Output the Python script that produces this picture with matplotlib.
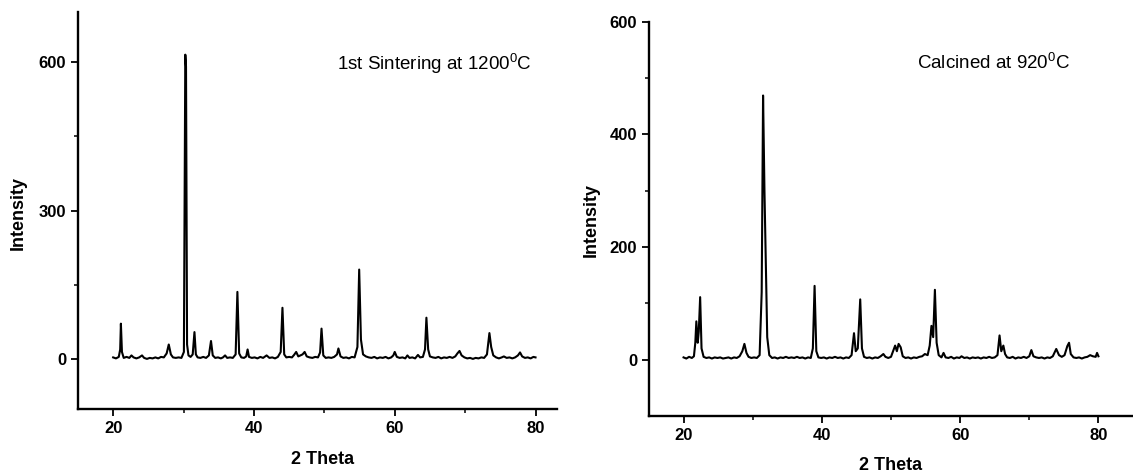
import numpy as np
import matplotlib
matplotlib.use("Agg")
import matplotlib.pyplot as plt

plt.rcParams['font.family'] = ['Liberation Sans', 'DejaVu Sans']
plt.rcParams['mathtext.default'] = 'regular'

# XRD pattern after 1st sintering at 1200 C  (2theta, intensity)
sinter_pts = [
    (20.0, 4), (20.4, 2), (20.8, 5), (21.0, 20), (21.1, 72), (21.25, 15), (21.5, 3), (21.9, 5),
    (22.3, 3), (22.6, 8), (22.9, 4), (23.3, 2), (23.7, 4), (24.1, 8), (24.4, 3), (24.8, 1),
    (25.2, 3), (25.6, 2), (26.0, 4), (26.4, 2), (26.8, 5), (27.2, 4), (27.6, 12), (27.9, 30),
    (28.2, 10), (28.5, 4), (28.9, 3), (29.3, 4), (29.7, 3), (30.05, 15), (30.25, 614), (30.35, 590),
    (30.5, 30), (30.7, 8), (31.0, 5), (31.3, 10), (31.55, 55), (31.75, 10), (32.0, 4), (32.4, 3),
    (32.8, 5), (33.2, 3), (33.6, 8), (33.9, 37), (34.15, 8), (34.5, 3), (34.9, 4), (35.3, 2),
    (35.6, 4), (35.9, 8), (36.2, 3), (36.6, 4), (37.0, 3), (37.4, 10), (37.65, 136), (37.9, 12),
    (38.2, 4), (38.6, 3), (38.9, 6), (39.1, 20), (39.3, 5), (39.7, 3), (40.1, 4), (40.5, 2),
    (40.9, 5), (41.3, 3), (41.8, 8), (42.2, 3), (42.6, 4), (43.0, 2), (43.4, 5), (43.8, 15),
    (44.05, 104), (44.3, 10), (44.6, 4), (45.0, 5), (45.4, 4), (45.7, 9), (46.0, 15), (46.3, 6),
    (46.6, 8), (46.9, 10), (47.2, 15), (47.5, 6), (47.9, 4), (48.3, 3), (48.7, 5), (49.1, 4),
    (49.4, 14), (49.6, 62), (49.85, 8), (50.2, 3), (50.6, 4), (51.0, 3), (51.4, 5), (51.8, 10),
    (52.0, 22), (52.3, 6), (52.7, 3), (53.1, 4), (53.5, 2), (53.9, 5), (54.3, 4), (54.7, 25),
    (54.95, 181), (55.2, 40), (55.5, 10), (55.9, 6), (56.3, 4), (56.7, 3), (57.1, 5), (57.5, 2),
    (57.9, 4), (58.3, 3), (58.7, 5), (59.1, 2), (59.5, 4), (59.8, 8), (60.0, 15), (60.3, 5),
    (60.7, 3), (61.1, 4), (61.5, 2), (61.8, 8), (62.1, 3), (62.5, 4), (62.9, 2), (63.3, 9),
    (63.6, 4), (64.0, 5), (64.3, 20), (64.5, 84), (64.75, 20), (65.0, 6), (65.4, 4), (65.8, 3),
    (66.2, 5), (66.6, 2), (67.0, 4), (67.4, 3), (67.8, 5), (68.2, 3), (68.6, 6), (68.9, 12),
    (69.2, 17), (69.5, 8), (69.9, 4), (70.3, 2), (70.7, 3), (71.1, 1), (71.5, 3), (71.9, 2),
    (72.3, 4), (72.7, 3), (73.1, 10), (73.45, 53), (73.7, 25), (74.0, 8), (74.4, 4), (74.8, 2),
    (75.2, 4), (75.5, 6), (75.9, 3), (76.3, 4), (76.7, 2), (77.1, 4), (77.5, 8), (77.8, 14),
    (78.1, 6), (78.5, 3), (78.9, 4), (79.3, 2), (79.7, 5), (80.0, 4),
]

# XRD pattern after calcination at 920 C  (2theta, intensity)
calcine_pts = [
    (20.0, 4), (20.4, 2), (20.8, 5), (21.2, 3), (21.5, 6), (21.7, 30), (21.85, 68), (22.05, 30),
    (22.2, 50), (22.4, 111), (22.6, 20), (22.9, 5), (23.3, 3), (23.7, 4), (24.1, 2), (24.5, 4),
    (24.9, 3), (25.3, 4), (25.7, 2), (26.1, 3), (26.5, 4), (26.9, 2), (27.3, 4), (27.7, 3),
    (28.1, 6), (28.5, 15), (28.8, 28), (29.1, 12), (29.4, 5), (29.8, 3), (30.2, 4), (30.6, 3),
    (31.0, 8), (31.3, 120), (31.5, 469), (31.7, 300), (31.85, 203), (32.1, 40), (32.4, 8), (32.8, 3),
    (33.2, 4), (33.6, 2), (34.0, 4), (34.4, 3), (34.8, 5), (35.2, 3), (35.6, 4), (36.0, 3),
    (36.4, 5), (36.8, 3), (37.2, 4), (37.6, 2), (38.0, 4), (38.4, 3), (38.7, 20), (38.95, 131),
    (39.2, 15), (39.5, 4), (39.9, 3), (40.3, 4), (40.7, 2), (41.1, 4), (41.5, 3), (41.9, 5),
    (42.3, 3), (42.7, 4), (43.1, 2), (43.5, 4), (43.9, 3), (44.3, 8), (44.65, 47), (44.9, 15),
    (45.2, 20), (45.55, 107), (45.8, 20), (46.1, 5), (46.5, 3), (46.9, 4), (47.3, 2), (47.7, 4),
    (48.1, 3), (48.5, 6), (48.9, 10), (49.2, 5), (49.6, 3), (50.0, 5), (50.3, 15), (50.6, 25),
    (50.85, 15), (51.1, 28), (51.4, 22), (51.7, 6), (52.1, 3), (52.5, 4), (52.9, 2), (53.3, 4),
    (53.7, 3), (54.1, 5), (54.5, 6), (54.9, 10), (55.3, 8), (55.6, 25), (55.85, 60), (56.1, 40),
    (56.35, 124), (56.6, 30), (56.9, 8), (57.3, 4), (57.6, 12), (57.9, 4), (58.3, 3), (58.7, 5),
    (59.1, 2), (59.5, 4), (59.9, 3), (60.2, 6), (60.6, 3), (61.0, 4), (61.4, 2), (61.8, 4),
    (62.2, 3), (62.6, 4), (63.0, 2), (63.4, 4), (63.8, 3), (64.2, 5), (64.6, 3), (65.0, 4),
    (65.4, 8), (65.7, 43), (65.95, 15), (66.25, 25), (66.5, 10), (66.8, 4), (67.2, 3), (67.6, 5),
    (68.0, 2), (68.4, 4), (68.8, 3), (69.2, 5), (69.6, 3), (70.0, 6), (70.3, 17), (70.6, 6),
    (71.0, 4), (71.4, 3), (71.8, 4), (72.2, 2), (72.6, 4), (73.0, 3), (73.4, 6), (73.9, 19),
    (74.3, 8), (74.7, 5), (75.1, 8), (75.5, 24), (75.75, 30), (76.0, 10), (76.4, 4), (76.8, 3),
    (77.2, 4), (77.6, 2), (78.0, 4), (78.4, 5), (78.8, 8), (79.2, 6), (79.6, 5), (79.8, 12),
    (80.0, 6),
]

x_ticks = [20, 40, 60, 80]
x_minor = [30, 50, 70]
y_ticks_sinter = [0, 300, 600]
y_minor_sinter = [150, 450]
y_ticks_calcine = [0, 200, 400, 600]
y_minor_calcine = [100, 300, 500]

label_sinter = r'1st Sintering at 1200$^{0}$C'
label_calcine = r'Calcined at 920$^{0}$C'

fig = plt.figure(figsize=(11.33, 4.74), dpi=100)
ax1 = fig.add_axes([0.0688, 0.1371, 0.4225, 0.8376])
ax2 = fig.add_axes([0.5728, 0.1224, 0.4272, 0.8318])


def style(ax, xlim, ylim, yt, ym):
    ax.set_xlim(*xlim)
    ax.set_ylim(*ylim)
    ax.set_xticks(x_ticks)
    ax.set_xticks(x_minor, minor=True)
    ax.set_yticks(yt)
    ax.set_yticks(ym, minor=True)
    for s in ['top', 'right']:
        ax.spines[s].set_visible(False)
    for s in ['left', 'bottom']:
        ax.spines[s].set_linewidth(1.7)
    ax.tick_params(which='major', direction='out', length=5, width=1.3, labelsize=12)
    ax.tick_params(which='minor', direction='out', length=3, width=1.1)
    for lab in ax.get_xticklabels() + ax.get_yticklabels():
        lab.set_fontweight('bold')


d = np.array(sinter_pts)
ax1.plot(d[:, 0], d[:, 1], color='black', lw=1.5)
style(ax1, (15, 83), (-100, 700), y_ticks_sinter, y_minor_sinter)
ax1.text(51.8, 596, label_sinter, fontsize=13.5, va='center', ha='left')

d = np.array(calcine_pts)
ax2.plot(d[:, 0], d[:, 1], color='black', lw=1.5)
style(ax2, (15, 85), (-100, 600), y_ticks_calcine, y_minor_calcine)
ax2.text(53.8, 526, label_calcine, fontsize=13.5, va='center', ha='left')

fig.text(18 / 1133, 1 - 213 / 474, 'Intensity', rotation=90, ha='center', va='center',
         fontsize=13, fontweight='bold')
fig.text(323 / 1133, 1 - 460 / 474, '2 Theta', ha='center', va='center',
         fontsize=13, fontweight='bold')
fig.text(591 / 1133, 1 - 220 / 474, 'Intensity', rotation=90, ha='center', va='center',
         fontsize=13, fontweight='bold')
fig.text(891 / 1133, 1 - 465 / 474, '2 Theta', ha='center', va='center',
         fontsize=13, fontweight='bold')

fig.savefig('out.png', dpi=100)
